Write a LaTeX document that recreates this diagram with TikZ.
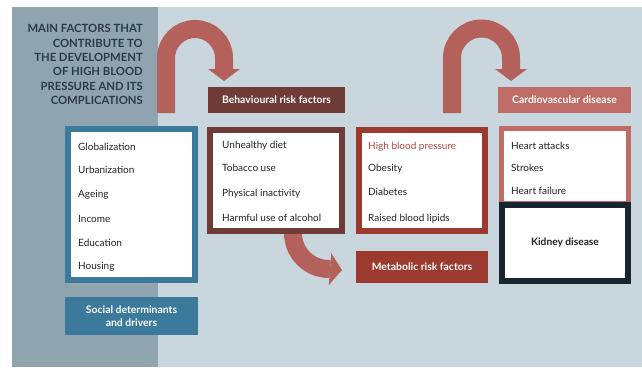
\documentclass[tikz,border=0pt]{standalone}
\usepackage{fontspec}
\setmainfont{Lato}
\usetikzlibrary{arrows.meta}
\definecolor{panel}{HTML}{C9D6DE}
\definecolor{darkpanel}{HTML}{8FA4AF}
\definecolor{socblue}{HTML}{3B7A9B}
\definecolor{behbrown}{HTML}{6E3B36}
\definecolor{metred}{HTML}{9C3A30}
\definecolor{cardsalmon}{HTML}{C06C66}
\definecolor{arrowred}{HTML}{B5615B}
\definecolor{kidnavy}{HTML}{17252F}
\definecolor{titlecol}{HTML}{2C3A45}
\definecolor{hbpcol}{HTML}{B04A42}
\definecolor{bodytext}{HTML}{222222}
\begin{document}
\begin{tikzpicture}[x=1pt,y=-1pt,
  listbox/.style={rectangle, draw, fill=white, line width=6pt, inner sep=0pt, outer sep=0pt},
  hdr/.style={rectangle, inner sep=0pt, outer sep=0pt, text=white, align=center,
    font=\bfseries\fontsize{10.4}{13}\selectfont},
  item/.style={anchor=base west, inner sep=0pt, text=bodytext, font=\fontsize{10}{12}\selectfont},
  titletext/.style={align=right, inner sep=0pt, text=titlecol, font=\bfseries\fontsize{11.3}{14.4}\selectfont},
  bigarrow/.style={draw=arrowred, line width=18pt, -{Triangle[width=32pt,length=12pt,line width=0pt]}}
]
\useasboundingbox (0,0) rectangle (642,367);
\fill[white] (0,0) rectangle (642,367);
\fill[panel] (12,7) rectangle (642,367);
\fill[darkpanel] (12,7) rectangle (158,367);

% title
\node[titletext, anchor=north east] (title) at (143,24.3) {MAIN FACTORS THAT\\CONTRIBUTE TO\\THE DEVELOPMENT\\OF HIGH BLOOD\\PRESSURE AND ITS\\COMPLICATIONS};

% arrows
\coordinate (a1s) at (166,113);
\coordinate (a1e) at (224,81);
\draw[bigarrow] (a1s) -- (166,58) arc[start angle=180,end angle=360,radius=29] -- (a1e);
\coordinate (a2s) at (452,113);
\coordinate (a2e) at (511,81);
\draw[bigarrow] (a2s) -- (452,58) arc[start angle=180,end angle=360,radius=29.5] -- (a2e);
\coordinate (a3s) at (293,233);
\coordinate (a3e) at (342,270);
\draw[bigarrow] (a3s) arc[start angle=180,end angle=90,radius=36] -- (a3e);

% headers
\node[hdr, fill=behbrown, minimum width=137pt, minimum height=26pt] (behh) at (276.5,100) {Behavioural risk factors};
\node[hdr, fill=cardsalmon, minimum width=133pt, minimum height=26pt] (cardh) at (564.5,100) {Cardiovascular disease};
\node[hdr, fill=metred, minimum width=132pt, minimum height=32pt] (meth) at (422,267) {Metabolic risk factors};
\node[hdr, fill=socblue, minimum width=133pt, minimum height=38pt] (soch) at (131.5,316) {Social determinants\\and drivers};

% list boxes
\node[listbox, draw=socblue, minimum width=127pt, minimum height=151pt] (socl) at (131.5,204.5) {};
\node[listbox, draw=behbrown, minimum width=132pt, minimum height=101pt] (behl) at (276,180.5) {};
\node[listbox, draw=metred, minimum width=126pt, minimum height=101pt] (metl) at (422,180.5) {};
\node[listbox, draw=cardsalmon, line width=5pt, minimum width=127pt, minimum height=75pt] (cardl) at (565,166) {};
\node[listbox, draw=kidnavy, minimum width=126pt, minimum height=76pt, font=\bfseries\fontsize{10.2}{12}\selectfont, text=bodytext] (kid) at (565,243) {Kidney disease};

% items
\node[item] (s1) at (78,150) {Globalization};
\node[item] (s2) at (78,173) {Urbanization};
\node[item] (s3) at (78,197) {Ageing};
\node[item] (s4) at (78,222) {Income};
\node[item] (s5) at (78,246) {Education};
\node[item] (s6) at (78,269) {Housing};

\node[item] (b1) at (222,148) {Unhealthy diet};
\node[item] (b2) at (222,171) {Tobacco use};
\node[item] (b3) at (222,196) {Physical inactivity};
\node[item] (b4) at (222,221) {Harmful use of alcohol};

\node[item, text=hbpcol] (m1) at (368,149) {High blood pressure};
\node[item] (m2) at (368,171) {Obesity};
\node[item] (m3) at (368,195) {Diabetes};
\node[item] (m4) at (368,221) {Raised blood lipids};

\node[item] (c1) at (511,149) {Heart attacks};
\node[item] (c2) at (511,171) {Strokes};
\node[item] (c3) at (511,194) {Heart failure};
\end{tikzpicture}
\end{document}
